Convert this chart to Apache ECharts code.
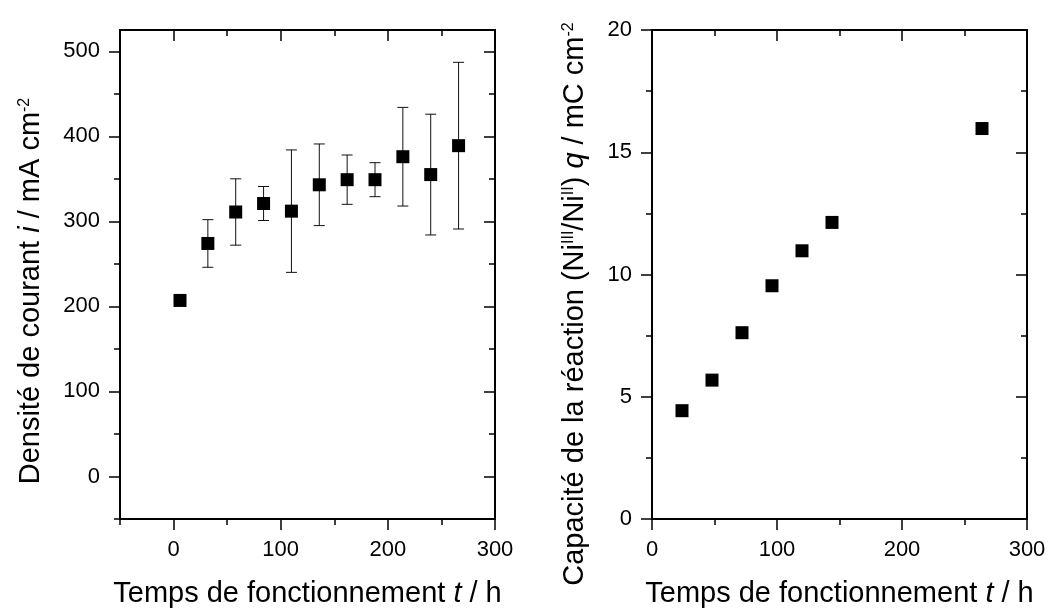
<!DOCTYPE html>
<html>
<head>
<meta charset="utf-8">
<script src="https://cdn.jsdelivr.net/npm/echarts@6/dist/echarts.min.js"></script>
<style>
html,body{margin:0;padding:0;background:#fff;}
#c{width:1051px;height:610px;}
</style>
</head>
<body>
<div id="c"></div>
<script>
// ---- data ----
const leftTime = [6, 32, 58, 84, 110, 136, 162, 188, 214, 240, 266];
const leftCurrent = [207, 274, 311, 321, 312, 343, 349, 349, 376, 355, 389];
const leftError = [4, 28, 39, 20, 72, 48, 29, 20, 58, 71, 98];

const rightTime = [24, 48, 72, 96, 120, 144, 264];
const rightCharge = [4.43, 5.68, 7.62, 9.54, 10.97, 12.13, 15.97];

const leftXMajor = [0, 100, 200, 300];
const leftXMinor = [-50, 50, 150, 250];
const leftYMajor = [0, 100, 200, 300, 400, 500];
const leftYMinor = [-50, 50, 150, 250, 350, 450];
const rightXMajor = [0, 100, 200, 300];
const rightXMinor = [50, 150, 250];
const rightYMajor = [0, 5, 10, 15, 20];
const rightYMinor = [2.5, 7.5, 12.5, 17.5];

const FONT = "'Liberation Sans', Arial, sans-serif";

function axisSet(gridIndex, min, max, majors, minors, pos, opp) {
  const common = {type: 'value', gridIndex: gridIndex, min: min, max: max, splitLine: {show: false}};
  const lineStyle = {color: '#000', width: 2};
  const tickStyle = {color: '#000', width: 1.5};
  return [
    Object.assign({}, common, {
      position: pos,
      axisLine: {show: true, onZero: false, lineStyle: lineStyle},
      axisTick: {show: true, inside: false, length: 11, customValues: majors, lineStyle: tickStyle},
      axisLabel: {show: true, customValues: majors, margin: 20, color: '#000', fontSize: 22, fontFamily: FONT}
    }),
    Object.assign({}, common, {
      position: pos,
      axisLine: {show: false, onZero: false},
      axisTick: {show: true, inside: false, length: 6, customValues: minors, lineStyle: tickStyle},
      axisLabel: {show: false}
    }),
    Object.assign({}, common, {
      position: opp,
      axisLine: {show: true, onZero: false, lineStyle: lineStyle},
      axisTick: {show: true, inside: true, length: 11, customValues: majors, lineStyle: tickStyle},
      axisLabel: {show: false}
    }),
    Object.assign({}, common, {
      position: opp,
      axisLine: {show: false, onZero: false},
      axisTick: {show: true, inside: true, length: 6, customValues: minors, lineStyle: tickStyle},
      axisLabel: {show: false}
    })
  ];
}

const xAxes = axisSet(0, -50, 300, leftXMajor, leftXMinor, 'bottom', 'top')
  .concat(axisSet(1, 0, 300, rightXMajor, rightXMinor, 'bottom', 'top'));
const yAxes = axisSet(0, -50, 525, leftYMajor, leftYMinor, 'left', 'right')
  .concat(axisSet(1, 0, 20, rightYMajor, rightYMinor, 'left', 'right'));

const leftPoints = leftTime.map((t, i) => [t, leftCurrent[i]]);
const leftBars = leftTime.map((t, i) => [t, leftCurrent[i] - leftError[i], leftCurrent[i] + leftError[i]]);
const rightPoints = rightTime.map((t, i) => [t, rightCharge[i]]);

const titleStyle = {fontSize: 29, fontFamily: FONT, fill: '#000', align: 'center', verticalAlign: 'middle'};
const rich = {
  it: {fontSize: 29, fontFamily: FONT, fontStyle: 'italic', fill: '#000'},
  sup: {fontSize: 16, fontFamily: FONT, verticalAlign: 'top', fill: '#000'}
};

const chart = echarts.init(document.getElementById('c'), null, {renderer: 'canvas'});
chart.setOption({
  animation: false,
  backgroundColor: '#fff',
  grid: [
    {left: 120, top: 30, width: 375, height: 489},
    {left: 652, top: 30, width: 375, height: 489}
  ],
  xAxis: xAxes,
  yAxis: yAxes,
  series: [
    {
      type: 'custom',
      xAxisIndex: 0, yAxisIndex: 0,
      data: leftBars,
      z: 1,
      renderItem: function (params, api) {
        const x = api.value(0);
        const lo = api.coord([x, api.value(1)]);
        const hi = api.coord([x, api.value(2)]);
        const w = 5.5;
        const st = {stroke: '#111', lineWidth: 1};
        return {
          type: 'group',
          children: [
            {type: 'line', shape: {x1: lo[0], y1: lo[1], x2: hi[0], y2: hi[1]}, style: st},
            {type: 'line', shape: {x1: lo[0] - w, y1: lo[1], x2: lo[0] + w, y2: lo[1]}, style: st},
            {type: 'line', shape: {x1: hi[0] - w, y1: hi[1], x2: hi[0] + w, y2: hi[1]}, style: st}
          ]
        };
      }
    },
    {
      type: 'scatter',
      xAxisIndex: 0, yAxisIndex: 0,
      data: leftPoints,
      symbol: 'rect', symbolSize: 13,
      itemStyle: {color: '#000', opacity: 1},
      z: 3
    },
    {
      type: 'scatter',
      xAxisIndex: 4, yAxisIndex: 4,
      data: rightPoints,
      symbol: 'rect', symbolSize: 13,
      itemStyle: {color: '#000', opacity: 1},
      z: 3
    }
  ],
  graphic: [
    {type: 'text', x: 307.5, y: 594, silent: true,
      style: Object.assign({}, titleStyle, {text: 'Temps de fonctionnement {it|t} / h', rich: rich})},
    {type: 'text', x: 839.5, y: 594, silent: true,
      style: Object.assign({}, titleStyle, {text: 'Temps de fonctionnement {it|t} / h', rich: rich})},
    {type: 'text', x: 31, y: 291, rotation: Math.PI / 2, silent: true,
      style: Object.assign({}, titleStyle, {text: 'Densité de courant {it|i} / mA cm{sup|-2}', rich: rich})},
    {type: 'text', x: 575, y: 304, rotation: Math.PI / 2, silent: true,
      style: Object.assign({}, titleStyle, {text: 'Capacité de la réaction (Ni{sup|III}/Ni{sup|II}) {it|q} / mC cm{sup|-2}', rich: rich})}
  ]
});
</script>
</body>
</html>
